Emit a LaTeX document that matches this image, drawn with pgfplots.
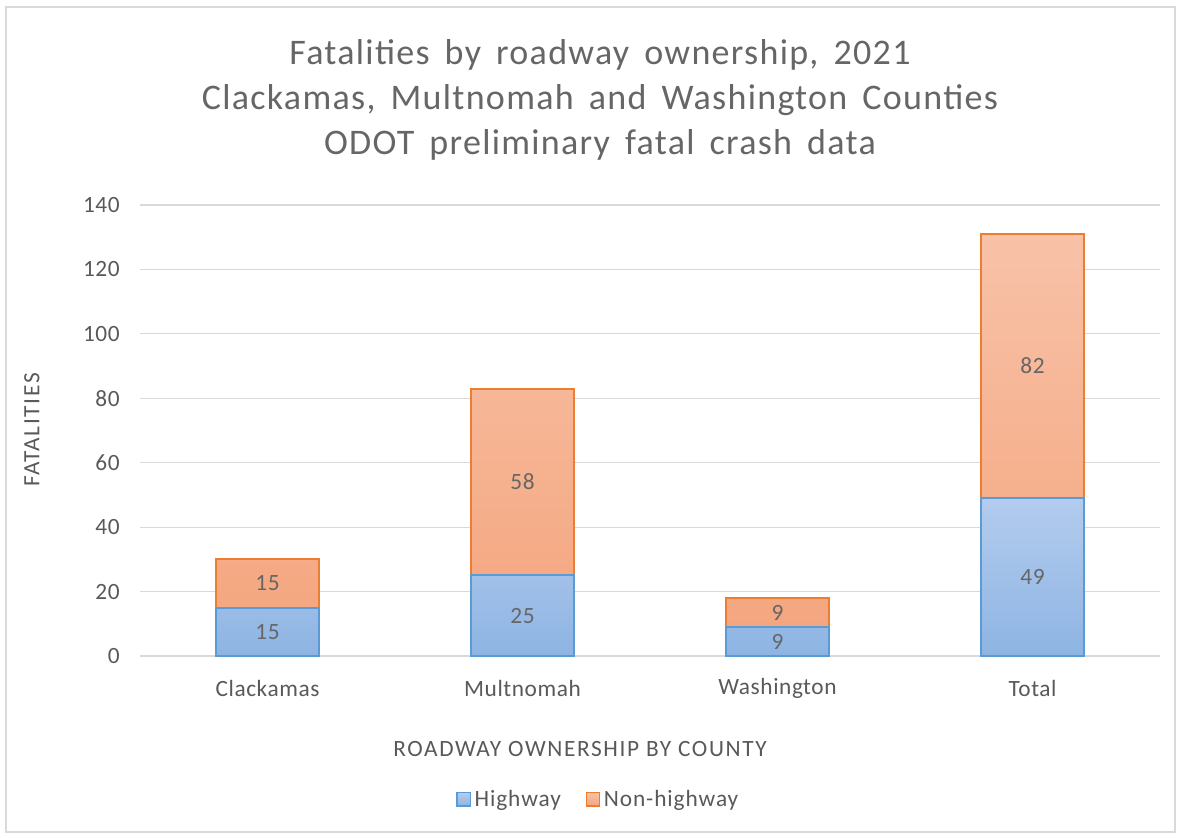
\documentclass[border=0pt]{standalone}
\usepackage{fontspec}
\setmainfont{Carlito}
\newfontfamily\titlefam{Carlito}[LetterSpace=3.6, WordSpace=1.6]
\newfontfamily\axlabfam{Carlito}[LetterSpace=7]
\newfontfamily\tickfam{Carlito}[LetterSpace=2.5]
\newfontfamily\legfam{Carlito}[LetterSpace=4]
\usepackage{pgfplots}
\pgfplotsset{compat=1.18}
\definecolor{txt}{HTML}{595959}
\definecolor{ttl}{HTML}{666666}
\definecolor{gridc}{HTML}{D9D9D9}
\definecolor{framec}{HTML}{D9D9D9}
\definecolor{hwedge}{HTML}{5B9BD5}
\definecolor{hwtop}{HTML}{B3CCEE}
\definecolor{hwbot}{HTML}{8EB4E3}
\definecolor{nhedge}{HTML}{ED7D31}
\definecolor{nhtop}{HTML}{F8C2A8}
\definecolor{nhbot}{HTML}{F4A67F}
\newcommand{\lblfont}{\fontsize{17.5}{21}\selectfont}
\begin{document}
\begin{tikzpicture}[x=0.75pt,y=0.75pt]
\path[use as bounding box] (-140,-182) rectangle (1038,656);
\draw[framec, line width=1.5pt] (-134,-176) rectangle (1035,649);
\begin{axis}[at={(0,0)}, anchor=south west, scale only axis,
  width=765pt, height=338.25pt,
  ybar stacked, bar width=77.25pt,
  xmin=-0.5, xmax=3.5, ymin=0, ymax=140,
  xtick={0,1,2,3}, xticklabels={Clackamas,Multnomah,Washington,Total},
  ytick={0,20,...,140},
  axis line style={draw=none}, major tick length=0pt,
  ymajorgrids, major grid style={gridc, line width=0.9pt},
  tick label style={font=\tickfam\lblfont, text=txt},
  /pgf/number format/assume math mode=true,
  yticklabel style={anchor=east, inner sep=0pt, xshift=-15pt},
  xticklabel style={anchor=center, inner sep=0pt, yshift=-24pt},
  legend style={at={(0.45,-0.319)}, anchor=center, draw=none, fill=none,
    font=\legfam\lblfont, text=txt, legend columns=2, inner sep=0pt,
    /tikz/every even column/.append style={column sep=16pt},
    nodes={inner sep=2.5pt}},
  legend image code/.code={\draw[#1, line width=1.2pt] (0pt,-4.5pt) rectangle (10pt,5.5pt);},
  clip=false]
\addplot[draw=hwedge, line width=1.5pt, top color=hwtop, bottom color=hwbot]
  coordinates {(0,15) (1,25) (2,9) (3,49)};
\addplot[draw=nhedge, line width=1.5pt, top color=nhtop, bottom color=nhbot]
  coordinates {(0,15) (1,58) (2,9) (3,82)};
\legend{Highway, Non-highway}
\end{axis}
\begin{axis}[at={(0,0)}, anchor=south west, scale only axis,
  width=765pt, height=338.25pt,
  xmin=-0.5, xmax=3.5, ymin=0, ymax=140, hide axis, clip=false]
\addplot[only marks, mark=*, mark options={draw=none, fill=none}, mark size=0pt,
  point meta=explicit symbolic, nodes near coords,
  every node near coord/.append style={anchor=center, font=\tickfam\lblfont, text=ttl}]
  coordinates {(0,7.5)[15] (1,12.5)[25] (2,4.5)[9] (3,24.5)[49]
               (0,22.5)[15] (1,54)[58] (2,13.5)[9] (3,90)[82]};
\end{axis}
\node[text=ttl, align=center, font=\titlefam\fontsize{27}{33.75}\selectfont] at (460,556)
  {Fatalities by roadway ownership, 2021\\Clackamas, Multnomah and Washington Counties\\ODOT preliminary fatal crash data};
\node[text=txt, font=\axlabfam\lblfont, rotate=90] at (-108,226) {FATALITIES};
\node[text=txt, font=\axlabfam\lblfont] at (440,-93) {ROADWAY OWNERSHIP BY COUNTY};
\end{tikzpicture}
\end{document}
